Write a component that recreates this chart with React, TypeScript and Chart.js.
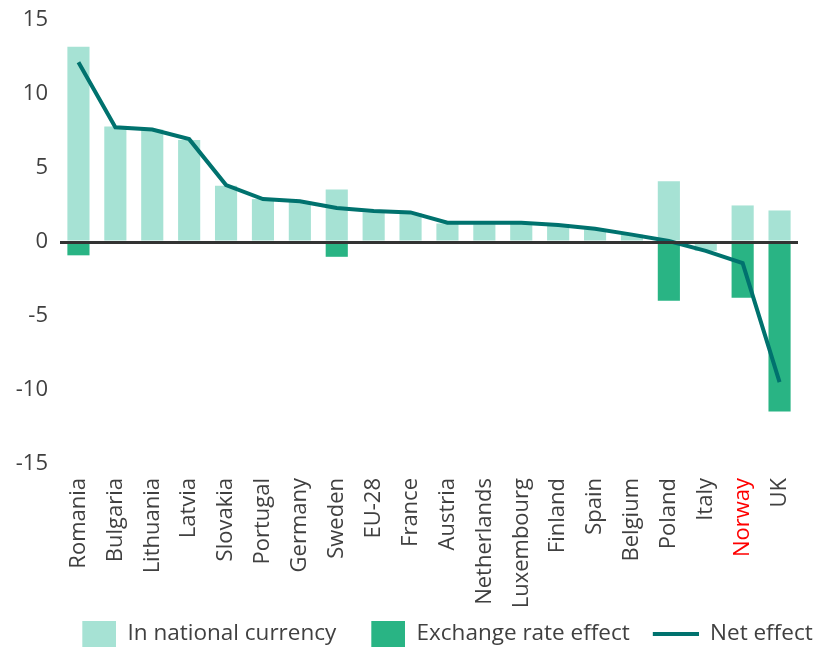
import React, { useEffect, useRef } from "react";
import { Chart, registerables } from "chart.js";

Chart.register(...registerables);

const categories = [
  "Romania", "Bulgaria", "Lithuania", "Latvia", "Slovakia", "Portugal", "Germany",
  "Sweden", "EU-28", "France", "Austria", "Netherlands", "Luxembourg", "Finland",
  "Spain", "Belgium", "Poland", "Italy", "Norway", "UK",
];
const highlightedCategory = "Norway";

const nationalCurrency = [
  13.2, 7.8, 7.6, 6.9, 3.8, 2.9, 2.7, 3.55, 2.0, 1.95, 1.25, 1.2, 1.25, 1.1, 0.85, 0.5, 4.1, -0.6, 2.47, 2.13,
];
const exchangeRateEffect = [
  -0.9, 0, 0, 0, 0, 0, 0, -1.0, 0, 0, 0, 0, 0, 0, 0, 0, -3.97, 0, -3.77, -11.45,
];
const netEffect = [
  12.15, 7.75, 7.6, 6.95, 3.85, 2.9, 2.75, 2.3, 2.1, 2.0, 1.3, 1.3, 1.3, 1.15, 0.9, 0.5, 0.07, -0.6, -1.43, -9.47,
];

const seriesNames = ["In national currency", "Exchange rate effect", "Net effect"];
const yMin = -15;
const yMax = 15;
const yStep = 5;

const LIGHT = "#a6e2d4";
const DARK = "#29b484";
const LINE = "#00726e";
const TEXT = "#404040";
const FONT = "'Open Sans', 'Noto Sans', sans-serif";

const LEGEND_FONT = 22.5;
const LEGEND_PAD = 2;
const LEGEND_BOX = 67;
const LEGEND_HEIGHT = LEGEND_FONT + LEGEND_PAD + 10;
const BOTTOM_PAD = -7;

function makeRectImage(color: string) {
  const c = document.createElement("canvas");
  c.width = LEGEND_BOX;
  c.height = 26;
  const g = c.getContext("2d")!;
  g.fillStyle = color;
  g.fillRect(LEGEND_BOX - 34, 0, 34, 26);
  return c;
}
function makeLineImage(color: string) {
  const c = document.createElement("canvas");
  c.width = LEGEND_BOX;
  c.height = 4;
  const g = c.getContext("2d")!;
  g.fillStyle = color;
  g.fillRect(LEGEND_BOX - 46, 0, 46, 4);
  return c;
}

const legendShift = {
  id: "legendShift",
  afterLayout(chart: any) {
    const lg = chart.legend;
    if (lg) {
      lg.left += 32;
      lg.right += 32;
    }
  },
};

export default function App() {
  const ref = useRef<HTMLCanvasElement>(null);
  useEffect(() => {
    document.body.style.margin = "0";
    const imgs = [makeRectImage(LIGHT), makeRectImage(DARK), makeLineImage(LINE)];
    const chart = new Chart(ref.current!, {
      type: "bar",
      plugins: [legendShift],
      data: {
        labels: categories,
        datasets: [
          {
            type: "line",
            label: seriesNames[2],
            data: netEffect,
            borderColor: LINE,
            backgroundColor: LINE,
            borderWidth: 4,
            pointRadius: 0,
            tension: 0,
            stack: "net",
            order: 0,
          } as any,
          {
            label: seriesNames[0],
            data: nationalCurrency,
            backgroundColor: LIGHT,
            stack: "bars",
            order: 1,
            categoryPercentage: 1,
            barPercentage: 0.6,
          },
          {
            label: seriesNames[1],
            data: exchangeRateEffect,
            backgroundColor: DARK,
            stack: "bars",
            order: 1,
            categoryPercentage: 1,
            barPercentage: 0.6,
          },
        ],
      },
      options: {
        animation: false,
        responsive: false,
        maintainAspectRatio: false,
        font: { family: FONT },
        layout: { padding: { left: 0, right: 17, top: 20, bottom: BOTTOM_PAD } },
        plugins: {
          tooltip: { enabled: false },
          legend: {
            position: "bottom",
            labels: {
              usePointStyle: true,
              pointStyleWidth: LEGEND_BOX,
              padding: LEGEND_PAD,
              color: TEXT,
              font: { family: FONT, size: LEGEND_FONT },
              generateLabels: () =>
                [0, 1, 2].map((i) => ({
                  text: seriesNames[i],
                  pointStyle: imgs[i] as any,
                  fillStyle: "transparent",
                  strokeStyle: "transparent",
                  lineWidth: 0,
                  fontColor: TEXT,
                  hidden: false,
                  datasetIndex: i === 2 ? 0 : i + 1,
                })),
            },
          },
        },
        scales: {
          x: {
            stacked: true,
            grid: { display: false, drawTicks: false },
            border: { display: false },
            ticks: {
              autoSkip: false,
              minRotation: 90,
              maxRotation: 90,
              padding: 14,
              font: { family: FONT, size: 22 },
              color: (ctx: any) => (categories[ctx.index] === highlightedCategory ? "#ff0000" : TEXT),
            },
            afterFit: (s: any) => {
              s.height = 648 - BOTTOM_PAD - LEGEND_HEIGHT - 464;
              s.paddingLeft = 0;
              s.paddingRight = 0;
            },
          },
          y: {
            stacked: true,
            min: yMin,
            max: yMax,
            grid: {
              drawTicks: false,
              z: 1,
              color: (ctx: any) => (ctx.tick && ctx.tick.value === 0 ? "#333333" : "transparent"),
              lineWidth: 3,
            },
            border: { display: false },
            ticks: {
              stepSize: yStep,
              padding: 12,
              color: TEXT,
              font: { family: FONT, size: 22 },
            },
            afterFit: (s: any) => {
              s.width = 60;
              s.paddingTop = 0;
              s.paddingBottom = 0;
            },
          },
        },
      },
    });
    return () => chart.destroy();
  }, []);
  return (
    <div style={{ width: 815, height: 648, position: "relative" }}>
      <canvas ref={ref} width={815} height={648} style={{ display: "block" }} />
    </div>
  );
}
